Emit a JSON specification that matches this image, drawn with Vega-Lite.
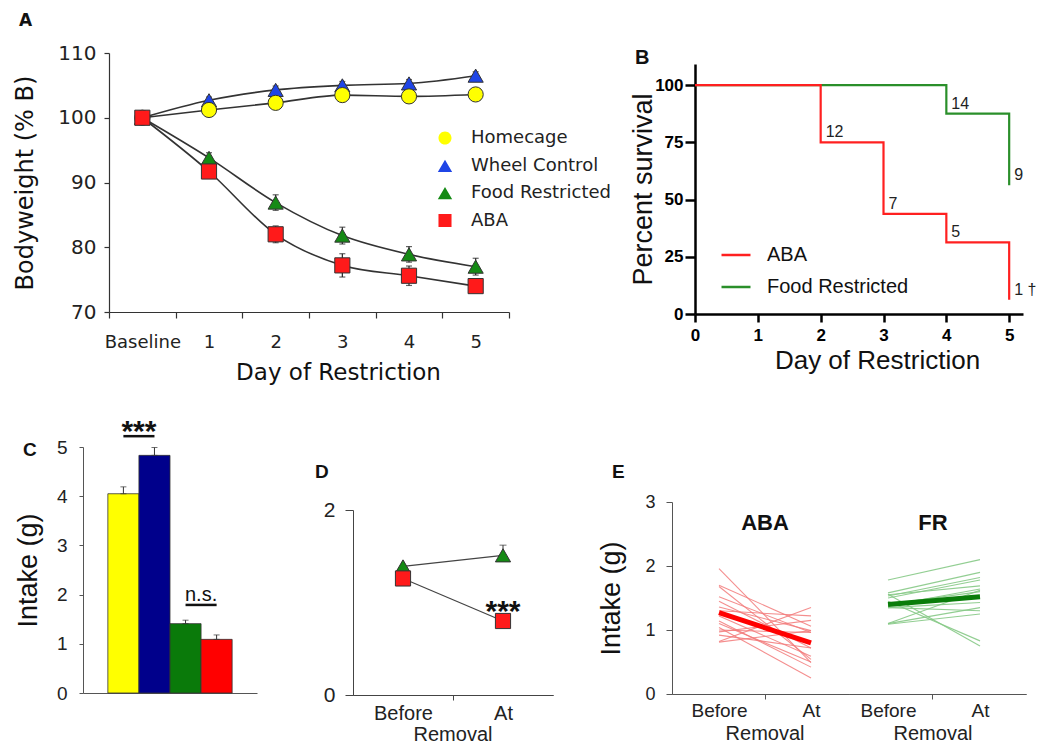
{
  "$schema": "https://vega.github.io/schema/vega-lite/v6.json",
  "padding": {"left": 13, "top": 12, "right": 5, "bottom": 5},
  "background": "white",
  "config": {
    "view": {"stroke": null},
    "font": "Liberation Sans",
    "axis": {"grid": false, "labelFont": "Liberation Sans", "titleFont": "Liberation Sans", "titleFontWeight": "normal", "labelColor": "#222", "titleColor": "#111", "domainColor": "#555", "tickColor": "#555"},
    "legend": {"labelFont": "Liberation Sans"},
    "text": {"font": "Liberation Sans"},
    "title": {"font": "Liberation Sans"}
  },
  "columns": 6,
  "spacing": 0,
  "bounds": "flush",
  "align": "each",
  "resolve": {"scale": {"fill": "independent", "shape": "independent", "stroke": "independent", "color": "independent"}},
  "concat": [
    {"width": 1, "height": 1, "data": {"values": [{"s": 0}]}, "mark": {"type": "point", "opacity": 0}},
    {"bounds": "flush", "spacing": 0, "vconcat": [
    {
      "width": 400, "height": 259,
      "title": {"text": "A", "anchor": "start", "frame": "group", "offset": 0, "baseline": "alphabetic", "dx": -90, "dy": 0, "fontSize": 17, "font": "DejaVu Sans", "fontWeight": "bold", "color": "#111"},
      "data": {"values": [
        {"group": "Wheel Control", "day": "Baseline", "mean": 100, "lo": 100, "hi": 100},
        {"group": "Wheel Control", "day": "1", "mean": 102.7, "lo": 102.2, "hi": 103.2},
        {"group": "Wheel Control", "day": "2", "mean": 104.3, "lo": 103.7, "hi": 104.9},
        {"group": "Wheel Control", "day": "3", "mean": 105.0, "lo": 104.4, "hi": 105.6},
        {"group": "Wheel Control", "day": "4", "mean": 105.3, "lo": 104.7, "hi": 105.9},
        {"group": "Wheel Control", "day": "5", "mean": 106.5, "lo": 105.9, "hi": 107.1},
        {"group": "Homecage", "day": "Baseline", "mean": 100, "lo": 100, "hi": 100},
        {"group": "Homecage", "day": "1", "mean": 101.2, "lo": 100.7, "hi": 101.7},
        {"group": "Homecage", "day": "2", "mean": 102.3, "lo": 101.8, "hi": 102.8},
        {"group": "Homecage", "day": "3", "mean": 103.5, "lo": 103.0, "hi": 104.0},
        {"group": "Homecage", "day": "4", "mean": 103.3, "lo": 102.8, "hi": 103.8},
        {"group": "Homecage", "day": "5", "mean": 103.6, "lo": 103.1, "hi": 104.1},
        {"group": "Food Restricted", "day": "Baseline", "mean": 100, "lo": 100, "hi": 100},
        {"group": "Food Restricted", "day": "1", "mean": 93.8, "lo": 93.0, "hi": 94.6},
        {"group": "Food Restricted", "day": "2", "mean": 86.9, "lo": 85.7, "hi": 88.1},
        {"group": "Food Restricted", "day": "3", "mean": 81.8, "lo": 80.5, "hi": 83.1},
        {"group": "Food Restricted", "day": "4", "mean": 78.9, "lo": 77.7, "hi": 80.1},
        {"group": "Food Restricted", "day": "5", "mean": 77.0, "lo": 75.7, "hi": 78.3},
        {"group": "ABA", "day": "Baseline", "mean": 100, "lo": 100, "hi": 100},
        {"group": "ABA", "day": "1", "mean": 91.7, "lo": 90.7, "hi": 92.7},
        {"group": "ABA", "day": "2", "mean": 82.0, "lo": 80.7, "hi": 83.3},
        {"group": "ABA", "day": "3", "mean": 77.2, "lo": 75.4, "hi": 79.0},
        {"group": "ABA", "day": "4", "mean": 75.6, "lo": 74.1, "hi": 77.1},
        {"group": "ABA", "day": "5", "mean": 74.0, "lo": 73.0, "hi": 75.0}
      ]},
      "resolve": {"scale": {"fill": "independent", "shape": "independent"}, "legend": {"fill": "independent", "shape": "independent"}},
      "encoding": {
        "x": {"field": "day", "type": "ordinal", "sort": ["Baseline", "1", "2", "3", "4", "5"], "scale": {"type": "band", "paddingInner": 0, "paddingOuter": 0},
          "axis": {"title": "Day of Restriction", "labelAngle": 0, "labelFont": "DejaVu Sans", "labelFontSize": 18, "titleFont": "DejaVu Sans", "titleFontSize": 23, "tickBand": "extent", "tickSize": 6, "labelPadding": 15, "titlePadding": 10, "titleX": 229, "domainColor": "#333", "tickColor": "#333", "domainWidth": 1.2, "tickWidth": 1.2}}
      },
      "layer": [
        {"mark": {"type": "line", "interpolate": "monotone", "color": "#333", "strokeWidth": 1.6},
         "encoding": {
           "y": {"field": "mean", "type": "quantitative", "title": "Bodyweight (% B)", "scale": {"domain": [70, 110], "nice": false, "zero": false},
             "axis": {"values": [70, 80, 90, 100, 110], "labelFont": "DejaVu Sans", "labelFontSize": 20, "titleFont": "DejaVu Sans", "titleFontSize": 24, "tickSize": 5, "labelPadding": 8, "titlePadding": 20, "domainColor": "#333", "tickColor": "#333", "labelFlush": false, "domainWidth": 1.2, "tickWidth": 1.2}},
           "detail": {"field": "group"},
           "order": {"value": null}
         }},
        {"mark": {"type": "errorbar", "ticks": {"size": 6}, "color": "#222", "thickness": 1.2},
         "encoding": {"y": {"field": "lo", "type": "quantitative", "title": "Bodyweight (% B)"}, "y2": {"field": "hi"}}},
        {"mark": {"type": "point", "filled": true, "opacity": 1, "size": 230, "stroke": "#333", "strokeWidth": 1},
         "encoding": {
           "y": {"field": "mean", "type": "quantitative", "title": "Bodyweight (% B)"},
           "fill": {"field": "group", "type": "nominal", "title": null,
             "scale": {"domain": ["Homecage", "Wheel Control", "Food Restricted", "ABA"], "range": ["#ffff00", "#1f45e6", "#158a15", "#ff1a1a"]},
             "legend": null},
           "shape": {"field": "group", "type": "nominal", "title": null,
             "scale": {"domain": ["Homecage", "Wheel Control", "Food Restricted", "ABA"], "range": ["circle", "triangle-up", "triangle-up", "square"]},
             "legend": null}
         }},
        {"data": {"values": []},
         "mark": {"type": "point", "filled": true, "opacity": 1, "stroke": "#333", "strokeWidth": 1},
         "encoding": {
           "fill": {"field": "group", "type": "nominal", "title": null,
             "scale": {"domain": ["Homecage", "Wheel Control", "Food Restricted", "ABA"], "range": ["#ffff00", "#1f45e6", "#158a15", "#ff1a1a"]},
             "legend": {"orient": "none", "legendX": 327, "legendY": 76, "title": null, "labelFont": "DejaVu Sans", "labelFontSize": 18, "labelColor": "#222", "symbolStrokeColor": "#333", "symbolStrokeWidth": 1.3, "symbolSize": 170, "rowPadding": 8.2, "labelOffset": 17, "padding": 0}},
           "shape": {"field": "group", "type": "nominal", "title": null,
             "scale": {"domain": ["Homecage", "Wheel Control", "Food Restricted", "ABA"], "range": [
               "M-1.8,0H-1M1,0H1.8M1,0A1,1,0,1,1,-1,0A1,1,0,1,1,1,0Z",
               "M-1.8,0H-0.5M0.5,0H1.8M0,-1L1.1,0.9H-1.1Z",
               "M-1.8,0H-0.5M0.5,0H1.8M0,-1L1.1,0.9H-1.1Z",
               "M-1.8,0H-1M1,0H1.8M-1,-1H1V1H-1Z"]},
             "legend": {"orient": "none", "legendX": 327, "legendY": 76, "title": null, "labelFont": "DejaVu Sans", "labelFontSize": 18, "labelColor": "#222", "symbolStrokeColor": "#333", "symbolStrokeWidth": 1.3, "symbolSize": 170, "rowPadding": 8.2, "labelOffset": 17, "padding": 0}}
         }}
      ]
    }]},
    {"width": 1, "height": 1, "data": {"values": [{"s": 0}]}, "mark": {"type": "point", "opacity": 0}},
    {"width": 1, "height": 1, "data": {"values": [{"s": 0}]}, "mark": {"type": "point", "opacity": 0}},
    {"width": 1, "height": 1, "data": {"values": [{"s": 0}]}, "mark": {"type": "point", "opacity": 0}},
    {"width": 1, "height": 11, "data": {"values": [{"s": 0}]}, "mark": {"type": "point", "opacity": 0}},

    {"width": 1, "height": 1, "data": {"values": [{"s": 0}]}, "mark": {"type": "point", "opacity": 0}},
    {"width": 1, "height": 1, "data": {"values": [{"s": 0}]}, "mark": {"type": "point", "opacity": 0}},
    {"width": 1, "height": 1, "data": {"values": [{"s": 0}]}, "mark": {"type": "point", "opacity": 0}},
    {"width": 1, "height": 1, "data": {"values": [{"s": 0}]}, "mark": {"type": "point", "opacity": 0}},
    {"bounds": "flush", "spacing": 0, "vconcat": [
    {
      "width": 328, "height": 250,
      "title": {"text": "B", "anchor": "start", "frame": "group", "offset": 0, "baseline": "alphabetic", "dx": -60, "dy": 20, "fontSize": 20, "fontWeight": "bold", "color": "#111"},
      "data": {"values": [
        {"grp": "Food Restricted", "day": 0, "surv": 100, "lab": ""},
        {"grp": "Food Restricted", "day": 4, "surv": 87.5, "lab": "14"},
        {"grp": "Food Restricted", "day": 5, "surv": 56.25, "lab": "9"},
        {"grp": "ABA", "day": 0, "surv": 100, "lab": ""},
        {"grp": "ABA", "day": 2, "surv": 75, "lab": "12"},
        {"grp": "ABA", "day": 3, "surv": 43.75, "lab": "7"},
        {"grp": "ABA", "day": 4, "surv": 31.25, "lab": "5"},
        {"grp": "ABA", "day": 5, "surv": 6.25, "lab": "1 †"}
      ]},
      "encoding": {
        "x": {"field": "day", "type": "quantitative", "scale": {"domain": [0, 5.22], "nice": false},
          "axis": {"values": [0, 1, 2, 3, 4, 5], "title": "Day of Restriction", "labelFontSize": 17, "labelFontWeight": "bold", "titleFontSize": 26, "tickSize": 8, "tickWidth": 2.5, "domainWidth": 2.5, "domainColor": "#000", "tickColor": "#000", "labelColor": "#000", "labelPadding": 5, "titlePadding": 4, "titleX": 182, "labelFlush": false}},
        "y": {"field": "surv", "type": "quantitative", "scale": {"domain": [0, 109.2], "nice": false},
          "axis": {"values": [0, 25, 50, 75, 100], "title": "Percent survival", "labelFontSize": 17, "labelFontWeight": "bold", "titleFontSize": 27, "tickSize": 10, "tickWidth": 2.5, "domainWidth": 2.5, "domainColor": "#000", "tickColor": "#000", "labelColor": "#000", "labelPadding": 2, "titlePadding": -3, "labelFlush": false}}
      },
      "layer": [
        {"mark": {"type": "line", "interpolate": "step-after", "strokeWidth": 2.2},
         "encoding": {"stroke": {"field": "grp", "type": "nominal", "scale": {"domain": ["ABA", "Food Restricted"], "range": ["#ff2020", "#2a8f2a"]},
           "legend": {"orient": "none", "legendX": 25, "legendY": 175, "title": null, "symbolType": "stroke", "symbolSize": 841, "symbolStrokeWidth": 2.5, "labelFontSize": 20, "labelOffset": 15, "rowPadding": 6, "padding": 0, "labelColor": "#111"}}}},
        {"mark": {"type": "text", "align": "left", "baseline": "alphabetic", "dx": 5, "dy": -5, "fontSize": 16, "color": "#222"},
         "encoding": {"text": {"field": "lab"}}}
      ]
    }]},
    {"width": 1, "height": 383, "data": {"values": [{"s": 0}]}, "mark": {"type": "point", "opacity": 0}},

    {"bounds": "flush", "spacing": 0, "vconcat": [
    {
      "width": 174, "height": 246,
      "title": {"text": "C", "anchor": "start", "frame": "group", "offset": 0, "baseline": "alphabetic", "dx": -60, "dy": 58, "fontSize": 19, "fontWeight": "bold", "color": "#111"},
      "layer": [
        {"data": {"values": [
           {"g": "Homecage", "m": 4.05, "hi": 4.19},
           {"g": "Wheel Control", "m": 4.83, "hi": 4.99},
           {"g": "Food Restricted", "m": 1.41, "hi": 1.48},
           {"g": "ABA", "m": 1.09, "hi": 1.18}
         ]},
         "mark": {"type": "bar", "stroke": "#333", "strokeWidth": 0.8},
         "encoding": {
           "x": {"field": "g", "type": "nominal", "title": null, "sort": ["Homecage", "Wheel Control", "Food Restricted", "ABA"], "scale": {"domain": ["Homecage", "Wheel Control", "Food Restricted", "ABA"], "paddingInner": 0, "paddingOuter": 0.8}, "axis": {"title": null, "labels": false, "ticks": false, "domainColor": "#555"}},
           "y": {"field": "m", "type": "quantitative", "title": "Intake (g)", "scale": {"domain": [0, 5], "nice": false},
             "axis": {"values": [0, 1, 2, 3, 4, 5], "format": "d", "labelFontSize": 19, "titleFontSize": 27, "tickSize": 4, "labelPadding": 12, "titlePadding": 14, "domainColor": "#555", "tickColor": "#555", "labelFlush": false}},
           "fill": {"field": "g", "type": "nominal", "scale": {"domain": ["Homecage", "Wheel Control", "Food Restricted", "ABA"], "range": ["#ffff00", "#00008b", "#0a7a0a", "#ff0000"]}, "legend": null}
         }},
        {"data": {"values": [
           {"g": "Homecage", "m": 4.05, "hi": 4.19},
           {"g": "Wheel Control", "m": 4.83, "hi": 4.99},
           {"g": "Food Restricted", "m": 1.41, "hi": 1.48},
           {"g": "ABA", "m": 1.09, "hi": 1.18}
         ]},
         "mark": {"type": "errorbar", "ticks": {"size": 6}, "color": "#333"},
         "encoding": {
           "x": {"field": "g", "type": "nominal", "title": null},
           "y": {"field": "m", "type": "quantitative", "title": "Intake (g)"},
           "y2": {"field": "hi"}
         }},
        {"data": {"values": [
           {"a": "Homecage", "b": "Wheel Control", "v": 5.22},
           {"a": "Food Restricted", "b": "ABA", "v": 1.79}
         ]},
         "mark": {"type": "rule", "strokeWidth": 2.5, "color": "#111"},
         "encoding": {
           "x": {"field": "a", "type": "nominal", "title": null},
           "x2": {"field": "b"},
           "y": {"field": "v", "type": "quantitative", "title": "Intake (g)"}
         }},
        {"data": {"values": [{"a": "Homecage", "v": 5.22, "t": "***"}]},
         "mark": {"type": "text", "fontSize": 30, "fontWeight": "bold", "baseline": "alphabetic", "dy": 5, "color": "#111"},
         "encoding": {
           "x": {"field": "a", "type": "nominal", "title": null, "bandPosition": 1},
           "y": {"field": "v", "type": "quantitative", "title": "Intake (g)"},
           "text": {"field": "t"}
         }},
        {"data": {"values": [{"a": "Food Restricted", "v": 1.79, "t": "n.s."}]},
         "mark": {"type": "text", "fontSize": 20, "baseline": "alphabetic", "dy": -4, "color": "#111"},
         "encoding": {
           "x": {"field": "a", "type": "nominal", "title": null, "bandPosition": 1},
           "y": {"field": "v", "type": "quantitative", "title": "Intake (g)"},
           "text": {"field": "t"}
         }}
      ]
    }]},
    {"width": 1, "height": 1, "data": {"values": [{"s": 0}]}, "mark": {"type": "point", "opacity": 0}},
    {"width": 1, "height": 1, "data": {"values": [{"s": 0}]}, "mark": {"type": "point", "opacity": 0}},
    {"width": 1, "height": 1, "data": {"values": [{"s": 0}]}, "mark": {"type": "point", "opacity": 0}},
    {"width": 1, "height": 1, "data": {"values": [{"s": 0}]}, "mark": {"type": "point", "opacity": 0}},
    {"width": 1, "height": 55, "data": {"values": [{"s": 0}]}, "mark": {"type": "point", "opacity": 0}},

    {"width": 1, "height": 1, "data": {"values": [{"s": 0}]}, "mark": {"type": "point", "opacity": 0}},
    {"width": 1, "height": 1, "data": {"values": [{"s": 0}]}, "mark": {"type": "point", "opacity": 0}},
    {"width": 1, "height": 1, "data": {"values": [{"s": 0}]}, "mark": {"type": "point", "opacity": 0}},
    {"bounds": "flush", "spacing": 0, "hconcat": [
    {
      "width": 177, "height": 192,
      "title": {"text": "E", "anchor": "start", "frame": "group", "offset": 0, "baseline": "alphabetic", "dx": -60, "dy": 4, "fontSize": 19, "fontWeight": "bold", "color": "#111"},
      "resolve": {"scale": {"x": "independent"}, "axis": {"x": "independent"}},
      "layer": [
        {
          "layer": [
            {"data": {"values": [
               {"id": 1, "ph": "Before", "v": 1.96}, {"id": 1, "ph": "At", "v": 0.49},
               {"id": 2, "ph": "Before", "v": 1.70}, {"id": 2, "ph": "At", "v": 1.06},
               {"id": 3, "ph": "Before", "v": 1.68}, {"id": 3, "ph": "At", "v": 0.54},
               {"id": 4, "ph": "Before", "v": 1.52}, {"id": 4, "ph": "At", "v": 0.96},
               {"id": 5, "ph": "Before", "v": 1.45}, {"id": 5, "ph": "At", "v": 0.72},
               {"id": 6, "ph": "Before", "v": 1.36}, {"id": 6, "ph": "At", "v": 0.99},
               {"id": 7, "ph": "Before", "v": 1.30}, {"id": 7, "ph": "At", "v": 1.22},
               {"id": 8, "ph": "Before", "v": 1.22}, {"id": 8, "ph": "At", "v": 0.59},
               {"id": 9, "ph": "Before", "v": 1.14}, {"id": 9, "ph": "At", "v": 0.42},
               {"id": 10, "ph": "Before", "v": 1.04}, {"id": 10, "ph": "At", "v": 0.25},
               {"id": 11, "ph": "Before", "v": 1.00}, {"id": 11, "ph": "At", "v": 0.96},
               {"id": 12, "ph": "Before", "v": 0.97}, {"id": 12, "ph": "At", "v": 1.15},
               {"id": 13, "ph": "Before", "v": 0.92}, {"id": 13, "ph": "At", "v": 0.72},
               {"id": 14, "ph": "Before", "v": 0.82}, {"id": 14, "ph": "At", "v": 1.35},
               {"id": 15, "ph": "Before", "v": 0.81}, {"id": 15, "ph": "At", "v": 0.99},
               {"id": 16, "ph": "Before", "v": 1.10}, {"id": 16, "ph": "At", "v": 0.50}
             ]},
             "mark": {"type": "line", "color": "#f27a7a", "strokeWidth": 1.1, "opacity": 0.85},
             "encoding": {
               "x": {"field": "ph", "type": "nominal", "title": null, "scale": {"type": "point", "domain": ["Before", "At"], "padding": 0.462, "align": 0.553}, "axis": {"labelFontSize": 19, "ticks": false, "labelPadding": 7, "domainColor": "#555", "labelAngle": 0}},
               "y": {"field": "v", "type": "quantitative", "title": "Intake (g)", "scale": {"domain": [0, 3], "nice": false}, "axis": {"values": [0, 1, 2, 3], "format": "d", "labelFontSize": 18, "titleFontSize": 27, "tickSize": 6, "labelPadding": 11, "titlePadding": 19, "domainColor": "#555", "tickColor": "#555", "labelFlush": false}},
               "detail": {"field": "id"}
             }},
            {"data": {"values": [{"ph": "Before", "v": 1.27}, {"ph": "At", "v": 0.80}]},
             "mark": {"type": "line", "color": "#ff0000", "strokeWidth": 5},
             "encoding": {
               "x": {"field": "ph", "type": "nominal", "title": null},
               "y": {"field": "v", "type": "quantitative", "title": "Intake (g)"}
             }}
          ]
        },
        {"data": {"values": [{"sec": "Removal", "t": "ABA"}]},
         "mark": {"type": "text", "fontSize": 22, "fontWeight": "bold", "baseline": "alphabetic", "color": "#111"},
         "encoding": {
           "x": {"field": "sec", "type": "nominal", "title": null, "scale": {"type": "band", "domain": ["Removal"], "paddingInner": 0, "paddingOuter": 0.5, "align": 0.551}, "axis": {"orient": "bottom", "labelFontSize": 20, "tickSize": 5, "labelPadding": 24, "domainColor": "#555", "tickColor": "#555", "labelAngle": 0}},
           "y": {"datum": 2.57},
           "text": {"field": "t"}
         }}
      ]
    },
    {
      "width": 177, "height": 192,
      "resolve": {"scale": {"x": "independent"}, "axis": {"x": "independent"}},
      "layer": [
        {
          "layer": [
            {"data": {"values": [
               {"id": 1, "ph": "Before", "v": 1.78}, {"id": 1, "ph": "At", "v": 2.10},
               {"id": 2, "ph": "Before", "v": 1.58}, {"id": 2, "ph": "At", "v": 1.90},
               {"id": 3, "ph": "Before", "v": 1.56}, {"id": 3, "ph": "At", "v": 0.75},
               {"id": 4, "ph": "Before", "v": 1.53}, {"id": 4, "ph": "At", "v": 1.82},
               {"id": 5, "ph": "Before", "v": 1.55}, {"id": 5, "ph": "At", "v": 1.69},
               {"id": 6, "ph": "Before", "v": 1.50}, {"id": 6, "ph": "At", "v": 1.78},
               {"id": 7, "ph": "Before", "v": 1.45}, {"id": 7, "ph": "At", "v": 0.83},
               {"id": 8, "ph": "Before", "v": 1.38}, {"id": 8, "ph": "At", "v": 1.64},
               {"id": 9, "ph": "Before", "v": 1.35}, {"id": 9, "ph": "At", "v": 1.43},
               {"id": 10, "ph": "Before", "v": 1.35}, {"id": 10, "ph": "At", "v": 1.30},
               {"id": 11, "ph": "Before", "v": 1.10}, {"id": 11, "ph": "At", "v": 1.35},
               {"id": 12, "ph": "Before", "v": 1.09}, {"id": 12, "ph": "At", "v": 1.25},
               {"id": 13, "ph": "Before", "v": 1.40}, {"id": 13, "ph": "At", "v": 1.60},
               {"id": 14, "ph": "Before", "v": 1.10}, {"id": 14, "ph": "At", "v": 1.62}
             ]},
             "mark": {"type": "line", "color": "#86c986", "strokeWidth": 1.1, "opacity": 0.9},
             "encoding": {
               "x": {"field": "ph", "type": "nominal", "title": null, "scale": {"type": "point", "domain": ["Before", "At"], "padding": 0.462, "align": 0.459}, "axis": {"labelFontSize": 19, "ticks": false, "labelPadding": 7, "domainColor": "#555", "labelAngle": 0}},
               "y": {"field": "v", "type": "quantitative", "scale": {"domain": [0, 3], "nice": false}, "axis": null},
               "detail": {"field": "id"}
             }},
            {"data": {"values": [{"ph": "Before", "v": 1.40}, {"ph": "At", "v": 1.52}]},
             "mark": {"type": "line", "color": "#0a7d0a", "strokeWidth": 5},
             "encoding": {
               "x": {"field": "ph", "type": "nominal", "title": null},
               "y": {"field": "v", "type": "quantitative", "axis": null}
             }}
          ]
        },
        {"data": {"values": [{"sec": "Removal", "t": "FR"}]},
         "mark": {"type": "text", "fontSize": 22, "fontWeight": "bold", "baseline": "alphabetic", "color": "#111"},
         "encoding": {
           "x": {"field": "sec", "type": "nominal", "title": null, "scale": {"type": "band", "domain": ["Removal"], "paddingInner": 0, "paddingOuter": 0.5, "align": 0.449}, "axis": {"orient": "bottom", "labelFontSize": 20, "tickSize": 5, "labelPadding": 24, "domainColor": "#555", "tickColor": "#555", "labelAngle": 0}},
           "y": {"datum": 2.57, "axis": null},
           "text": {"field": "t"}
         }}
      ]
    }]},
    {"width": 1, "height": 1, "data": {"values": [{"s": 0}]}, "mark": {"type": "point", "opacity": 0}},
    {"width": 1, "height": 8, "data": {"values": [{"s": 0}]}, "mark": {"type": "point", "opacity": 0}},

    {"width": 1, "height": 1, "data": {"values": [{"s": 0}]}, "mark": {"type": "point", "opacity": 0}},
    {"width": 1, "height": 1, "data": {"values": [{"s": 0}]}, "mark": {"type": "point", "opacity": 0}},
    {"bounds": "flush", "spacing": 0, "vconcat": [
    {
      "width": 200, "height": 185,
      "title": {"text": "D", "anchor": "start", "frame": "group", "offset": 0, "baseline": "alphabetic", "dx": -38, "dy": -2.5, "fontSize": 19, "fontWeight": "bold", "color": "#111"},
      "resolve": {"scale": {"x": "independent"}, "axis": {"x": "independent"}},
      "layer": [
        {
          "layer": [
            {"data": {"values": [
               {"g": "FR", "ph": "Before", "m": 1.39},
               {"g": "FR", "ph": "At", "m": 1.51},
               {"g": "ABA", "ph": "Before", "m": 1.26},
               {"g": "ABA", "ph": "At", "m": 0.8}
             ]},
             "mark": {"type": "line", "color": "#444", "strokeWidth": 1.2},
             "encoding": {
               "x": {"field": "ph", "type": "nominal", "title": null, "scale": {"type": "point", "domain": ["Before", "At"], "padding": 0.5}, "axis": {"labelFontSize": 20, "ticks": false, "labelPadding": 8, "domainColor": "#444", "labelAngle": 0}},
               "y": {"field": "m", "type": "quantitative", "title": null, "scale": {"domain": [0, 2], "nice": false}, "axis": {"values": [0, 1, 2], "format": "d", "labelFontSize": 21, "tickSize": 8, "labelPadding": 10, "domainColor": "#444", "tickColor": "#444", "labelFlush": false}},
               "detail": {"field": "g"}
             }},
            {"data": {"values": [{"ph": "At", "m": 1.51, "hi": 1.62}]},
             "mark": {"type": "errorbar", "ticks": {"size": 7}, "color": "#333"},
             "encoding": {
               "x": {"field": "ph", "type": "nominal", "title": null},
               "y": {"field": "m", "type": "quantitative", "title": null},
               "y2": {"field": "hi"}
             }},
            {"data": {"values": [
               {"g": "FR", "ph": "Before", "m": 1.39},
               {"g": "FR", "ph": "At", "m": 1.51},
               {"g": "ABA", "ph": "Before", "m": 1.26},
               {"g": "ABA", "ph": "At", "m": 0.8}
             ]},
             "mark": {"type": "point", "filled": true, "opacity": 1, "size": 230, "stroke": "#333", "strokeWidth": 1},
             "encoding": {
               "x": {"field": "ph", "type": "nominal", "title": null},
               "y": {"field": "m", "type": "quantitative", "title": null},
               "shape": {"field": "g", "type": "nominal", "scale": {"domain": ["FR", "ABA"], "range": ["triangle-up", "square"]}, "legend": null},
               "fill": {"field": "g", "type": "nominal", "scale": {"domain": ["FR", "ABA"], "range": ["#158a15", "#ff1a1a"]}, "legend": null}
             }},
            {"data": {"values": [{"ph": "At", "t": "***"}]},
             "mark": {"type": "text", "fontSize": 30, "fontWeight": "bold", "baseline": "alphabetic", "color": "#111"},
             "encoding": {
               "x": {"field": "ph", "type": "nominal", "title": null},
               "y": {"datum": 0.8},
               "text": {"field": "t"}
             }}
          ]
        },
        {"data": {"values": [{"sec": "Removal"}]},
         "mark": {"type": "text", "text": ""},
         "encoding": {
           "x": {"field": "sec", "type": "nominal", "title": null, "scale": {"type": "band", "domain": ["Removal"], "paddingInner": 0, "paddingOuter": 0.5}, "axis": {"orient": "bottom", "labelFontSize": 20, "tickSize": 5, "labelPadding": 24, "domainColor": "#444", "tickColor": "#444", "labelAngle": 0}}
         }}
      ]
    }]},
    {"width": 1, "height": 1, "data": {"values": [{"s": 0}]}, "mark": {"type": "point", "opacity": 0}},
    {"width": 1, "height": 1, "data": {"values": [{"s": 0}]}, "mark": {"type": "point", "opacity": 0}},
    {"width": 1, "height": 1, "data": {"values": [{"s": 0}]}, "mark": {"type": "point", "opacity": 0}},

    {"width": 25.5, "height": 1, "data": {"values": [{"s": 0}]}, "mark": {"type": "point", "opacity": 0}},
    {"width": 243.5, "height": 1, "data": {"values": [{"s": 0}]}, "mark": {"type": "point", "opacity": 0}},
    {"width": 319, "height": 1, "data": {"values": [{"s": 0}]}, "mark": {"type": "point", "opacity": 0}},
    {"width": 23, "height": 1, "data": {"values": [{"s": 0}]}, "mark": {"type": "point", "opacity": 0}},
    {"width": 1, "height": 1, "data": {"values": [{"s": 0}]}, "mark": {"type": "point", "opacity": 0}},
    {"width": 1, "height": 1, "data": {"values": [{"s": 0}]}, "mark": {"type": "point", "opacity": 0}}
  ]
}
